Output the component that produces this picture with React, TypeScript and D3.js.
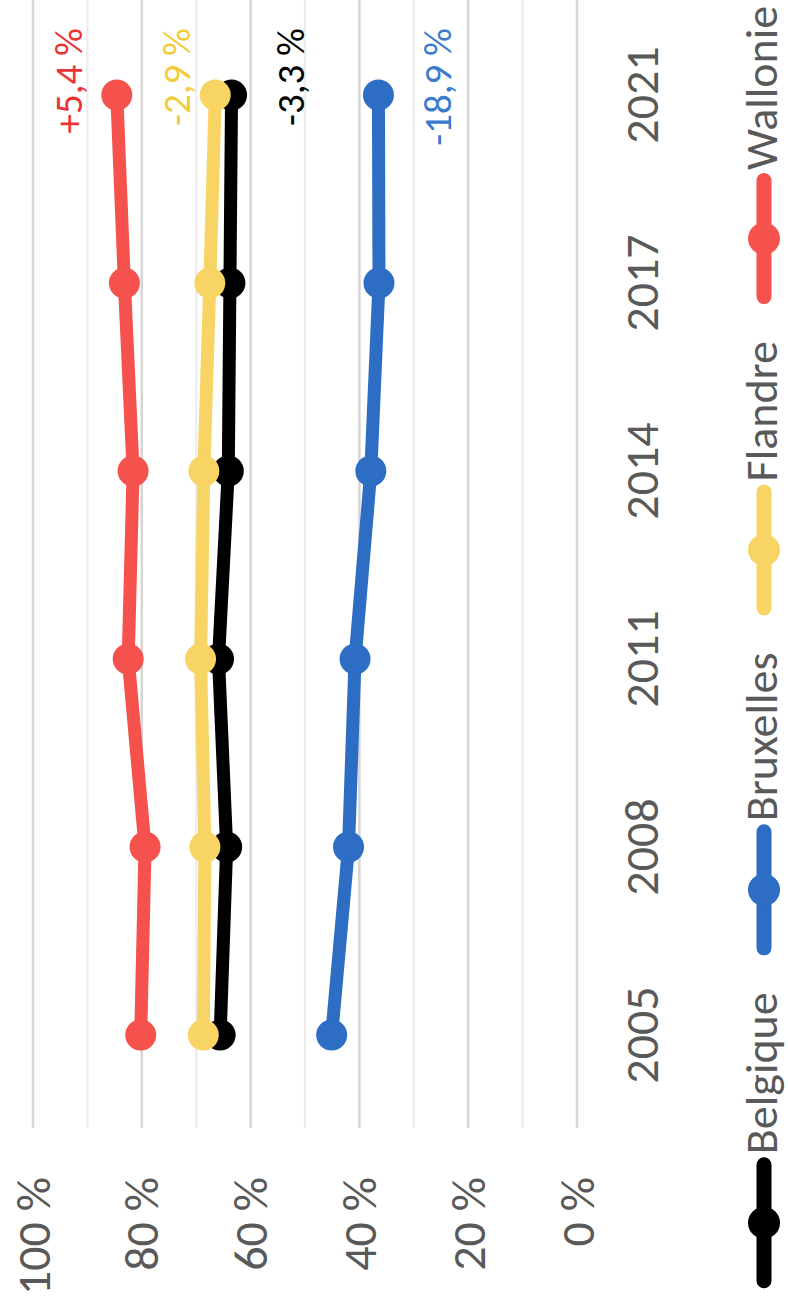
import { FC, useEffect, useRef } from 'react';
import * as d3 from 'd3';

const years = ['2005', '2008', '2011', '2014', '2017', '2021'];
const percentTicks = [0, 10, 20, 30, 40, 50, 60, 70, 80, 90, 100];

const seriesNames = ['Belgique', 'Bruxelles', 'Flandre', 'Wallonie'];
const seriesColors = ['#000000', '#2D6EC4', '#F8D464', '#F5524D'];
const belgique = [65.6, 64.4, 65.9, 64.1, 63.8, 63.5];
const bruxelles = [45.1, 42.0, 40.8, 37.9, 36.4, 36.5];
const flandre = [68.7, 68.4, 69.2, 68.6, 67.5, 66.5];
const wallonie = [80.2, 79.4, 82.5, 81.6, 83.2, 84.6];

// change labels, placed along the percent axis
const changeLabels = ['+5,4 %', '-2,9 %', '-3,3 %', '-18,9 %'];
const changeLabelColors = ['#EC3434', '#F2CC3C', '#000000', '#3A7BCB'];
const changeLabelAt = [93.4, 73.7, 52.6, 25.7];

const W = 788;
const H = 1314;
const FONT = 'Carlito, Lato, "Open Sans", sans-serif';

const App: FC = () => {
  const svgRef = useRef<SVGSVGElement>(null);

  useEffect(() => {
    if (!svgRef.current) return;
    d3.select(svgRef.current).selectAll('*').remove();

    // the chart is drawn lying on its side: u runs along the years, v along the percent axis
    const g = d3
      .select(svgRef.current)
      .append('g')
      .attr('transform', `translate(0,${H}) rotate(-90)`)
      .style('font-family', FONT);

    const x = d3.scalePoint<string>().domain(years).range([185, 1313]).padding(0.5);
    const y = d3.scaleLinear().domain([0, 100]).range([577, 33]);

    // gridlines
    g.selectAll('.grid')
      .data(percentTicks)
      .enter()
      .append('line')
      .attr('x1', 186)
      .attr('x2', H)
      .attr('y1', d => y(d))
      .attr('y2', d => y(d))
      .attr('stroke', d => (d % 20 === 0 ? '#D6D6D6' : '#EEEEEE'))
      .attr('stroke-width', 2.5);

    // percent labels
    g.selectAll('.ptick')
      .data(percentTicks.filter(d => d % 20 === 0))
      .enter()
      .append('text')
      .attr('x', 137)
      .attr('y', d => y(d))
      .attr('text-anchor', 'end')
      .attr('dominant-baseline', 'central')
      .attr('font-size', 48)
      .attr('fill', '#595959')
      .text(d => `${d} %`);

    // year labels
    g.selectAll('.ytick')
      .data(years)
      .enter()
      .append('text')
      .attr('x', d => x(d) as number)
      .attr('y', 641)
      .attr('text-anchor', 'middle')
      .attr('dominant-baseline', 'central')
      .attr('font-size', 48)
      .attr('fill', '#595959')
      .text(d => d);

    const allSeries = [belgique, bruxelles, flandre, wallonie];
    const line = d3
      .line<number>()
      .x((_, i) => x(years[i]) as number)
      .y(d => y(d));

    allSeries.forEach((values, si) => {
      g.append('path')
        .datum(values)
        .attr('fill', 'none')
        .attr('stroke', seriesColors[si])
        .attr('stroke-width', 13)
        .attr('stroke-linejoin', 'round')
        .attr('d', line);
      g.selectAll(`.dot${si}`)
        .data(values)
        .enter()
        .append('circle')
        .attr('cx', (_, i) => x(years[i]) as number)
        .attr('cy', d => y(d))
        .attr('r', 15.5)
        .attr('fill', seriesColors[si]);
    });

    // change annotations
    g.selectAll('.chg')
      .data(changeLabels)
      .enter()
      .append('text')
      .attr('x', 1286)
      .attr('y', (_, i) => y(changeLabelAt[i]))
      .attr('text-anchor', 'end')
      .attr('dominant-baseline', 'central')
      .attr('font-size', 39)
      .attr('fill', (_, i) => changeLabelColors[i])
      .text(d => d);

    // legend
    const legend = g.append('g');
    const lineLen = 116;
    const cap = 7.5;
    const items = seriesNames.map((name, i) => {
      const item = legend.append('g');
      item
        .append('line')
        .attr('x1', cap)
        .attr('x2', cap + lineLen)
        .attr('y1', 764)
        .attr('y2', 764)
        .attr('stroke', seriesColors[i])
        .attr('stroke-width', 15)
        .attr('stroke-linecap', 'round');
      item
        .append('circle')
        .attr('cx', cap + lineLen / 2)
        .attr('cy', 764)
        .attr('r', 16)
        .attr('fill', seriesColors[i]);
      const t = item
        .append('text')
        .attr('x', cap * 2 + lineLen + 3)
        .attr('y', 777)
        .attr('font-size', 46)
        .attr('fill', '#595959')
        .text(name);
      const tw = (t.node() as SVGTextElement).getComputedTextLength();
      return { item, w: cap * 2 + lineLen + 3 + tw };
    });
    const gap = 37;
    const total = d3.sum(items, d => d.w) + gap * (items.length - 1);
    let start = 667 - total / 2;
    items.forEach(d => {
      d.item.attr('transform', `translate(${start},0)`);
      start += d.w + gap;
    });
  }, []);

  return (
    <svg
      ref={svgRef}
      width={W}
      height={H}
      style={{ position: 'absolute', left: 0, top: 0, display: 'block', background: '#fff' }}
    />
  );
};

export default App;
